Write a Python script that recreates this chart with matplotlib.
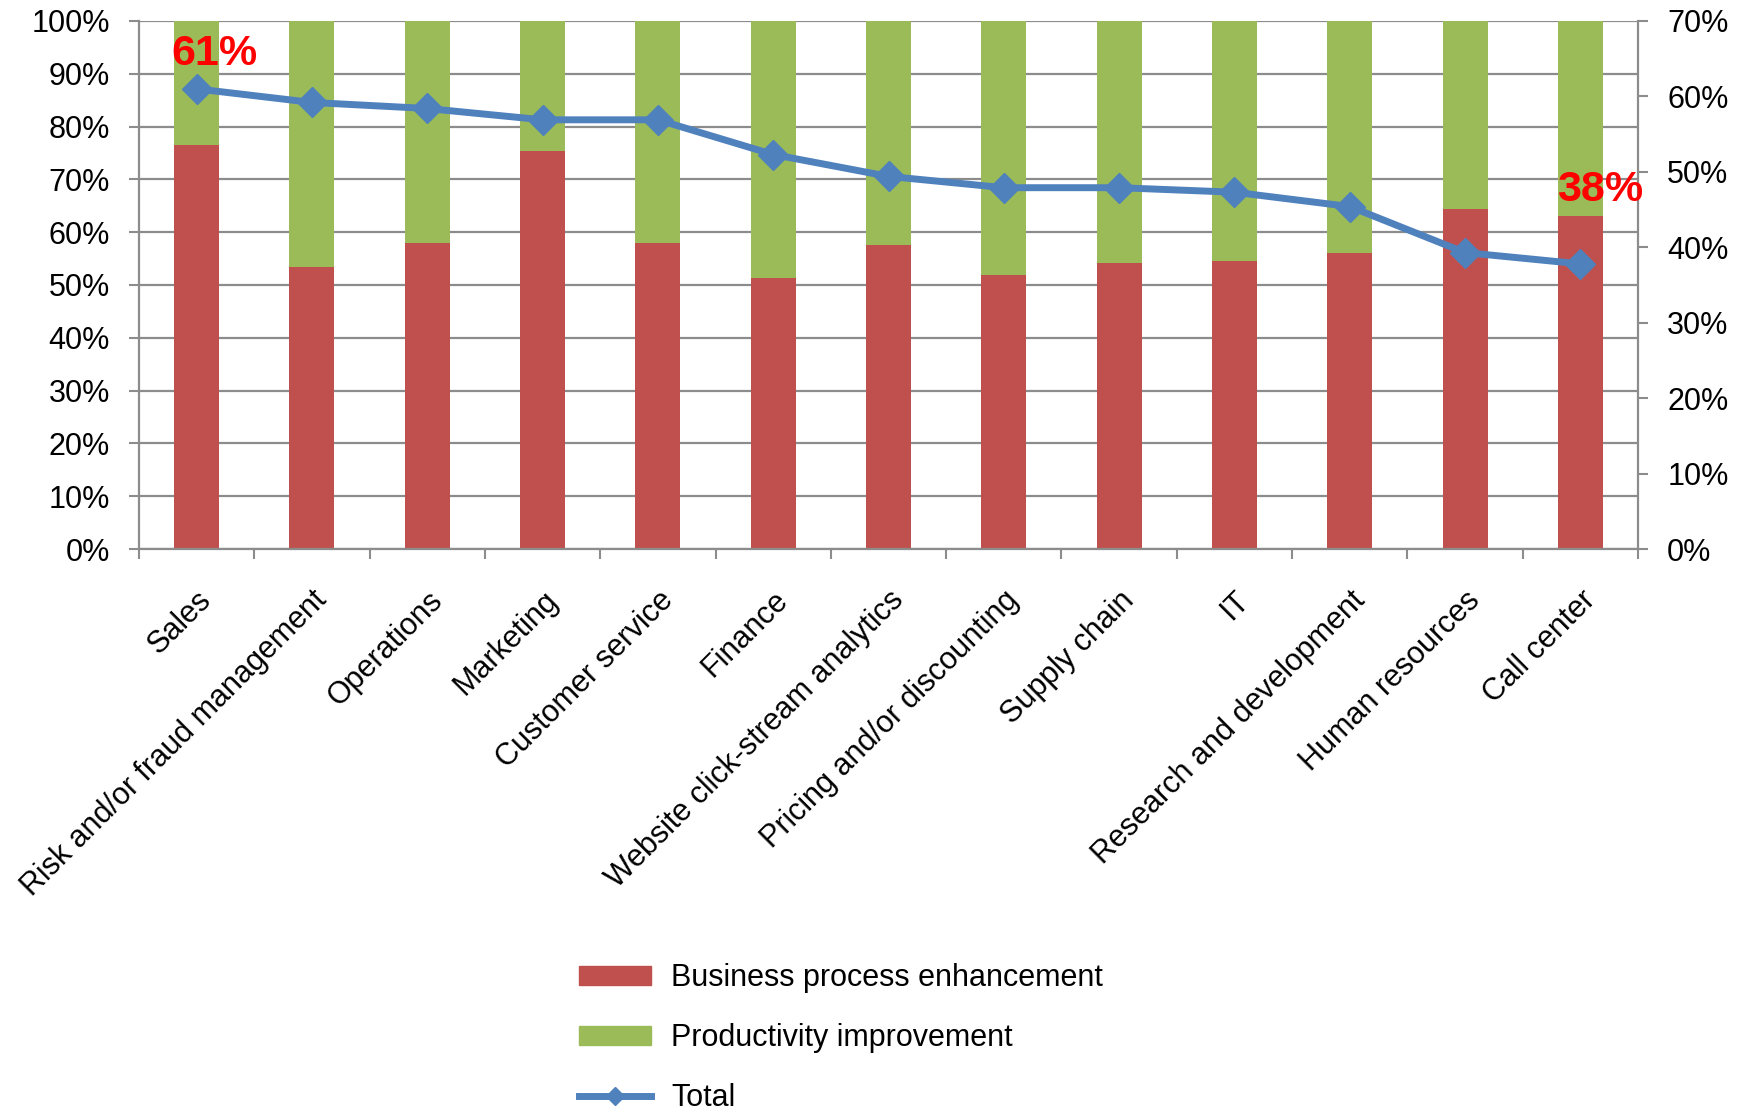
import matplotlib.pyplot as plt
from matplotlib.patches import Patch
from matplotlib.lines import Line2D
from matplotlib.ticker import PercentFormatter, FixedLocator

plt.rcParams['font.family'] = ['Liberation Sans', 'DejaVu Sans']

categories = ["Sales", "Risk and/or fraud management", "Operations", "Marketing",
              "Customer service", "Finance", "Website click-stream analytics",
              "Pricing and/or discounting", "Supply chain", "IT",
              "Research and development", "Human resources", "Call center"]
business = [76.6, 53.5, 57.9, 75.4, 57.9, 51.4, 57.5, 51.8, 54.1, 54.5, 56.0, 64.4, 63.0]
productivity = [23.4, 46.5, 42.1, 24.6, 42.1, 48.6, 42.5, 48.2, 45.9, 45.5, 44.0, 35.6, 37.0]
total = [61.0, 59.2, 58.4, 56.9, 56.9, 52.3, 49.4, 47.9, 47.9, 47.3, 45.4, 39.3, 37.8]

RED = "#C0504D"
GREEN = "#9BBB59"
BLUE = "#4F81BD"
GRAY = "#8C8C8C"

fig = plt.figure(figsize=(17.44, 11.14), dpi=100)
ax = fig.add_axes([139 / 1744, 1 - 549 / 1114, (1638 - 139) / 1744, (549 - 21) / 1114])

x = list(range(len(categories)))
ax.bar(x, business, width=0.39, color=RED, zorder=2)
ax.bar(x, productivity, width=0.39, bottom=business, color=GREEN, zorder=2)

ax.set_xlim(-0.5, len(categories) - 0.5)
ax.set_ylim(0, 100)
ax.set_yticks(range(0, 101, 10))
ax.yaxis.set_major_formatter(PercentFormatter(decimals=0))
ax.grid(axis="y", color=GRAY, lw=1.6, zorder=0)
ax.set_axisbelow(True)

# category labels at the bar centres, small ticks between the categories
ax.set_xticks(x)
ax.set_xticklabels(categories, rotation=45, ha="right", va="top", rotation_mode="anchor")
ax.xaxis.set_minor_locator(FixedLocator([i - 0.5 for i in range(len(categories) + 1)]))
ax.tick_params(axis="x", which="major", length=0, pad=26, labelsize=22)
ax.tick_params(axis="x", which="minor", length=7, width=1.5, color=GRAY)
ax.tick_params(axis="y", length=7, width=1.5, color=GRAY, pad=14, labelsize=22)

for side in ["top", "right"]:
    ax.spines[side].set_visible(False)
for side in ["left", "bottom"]:
    ax.spines[side].set_color(GRAY)
    ax.spines[side].set_linewidth(1.6)

ax2 = ax.twinx()
ax2.plot(x, total, color=BLUE, lw=5, marker="D", markersize=15, zorder=3)
ax2.set_ylim(0, 70)
ax2.set_yticks(range(0, 71, 10))
ax2.yaxis.set_major_formatter(PercentFormatter(decimals=0))
ax2.tick_params(axis="y", length=7, width=1.5, color=GRAY, pad=14, labelsize=22)
for side in ["top", "left", "bottom"]:
    ax2.spines[side].set_visible(False)
ax2.spines["right"].set_color(GRAY)
ax2.spines["right"].set_linewidth(1.6)

ax2.annotate(f"{total[0]:.0f}%", (x[0], total[0]), xytext=(-18, 17), textcoords="offset points",
             color="red", fontsize=31, fontweight="bold", ha="left", va="baseline")
ax2.annotate(f"{total[-1]:.0f}%", (x[-1], total[-1]), xytext=(-17, 45), textcoords="offset points",
             color="red", fontsize=31, fontweight="bold", ha="left", va="baseline")

handles = [Patch(color=RED), Patch(color=GREEN),
           Line2D([], [], color=BLUE, lw=5, marker="D", markersize=9)]
labels = ["Business process enhancement", "Productivity improvement", "Total"]
fig.legend(handles, labels, loc="upper left", bbox_to_anchor=(564 / 1744, 1 - 948 / 1114),
           frameon=False, fontsize=22, borderpad=0, handlelength=2.36, handleheight=0.6,
           handletextpad=0.65, labelspacing=0.98)

fig.savefig("out.png", dpi=100)
